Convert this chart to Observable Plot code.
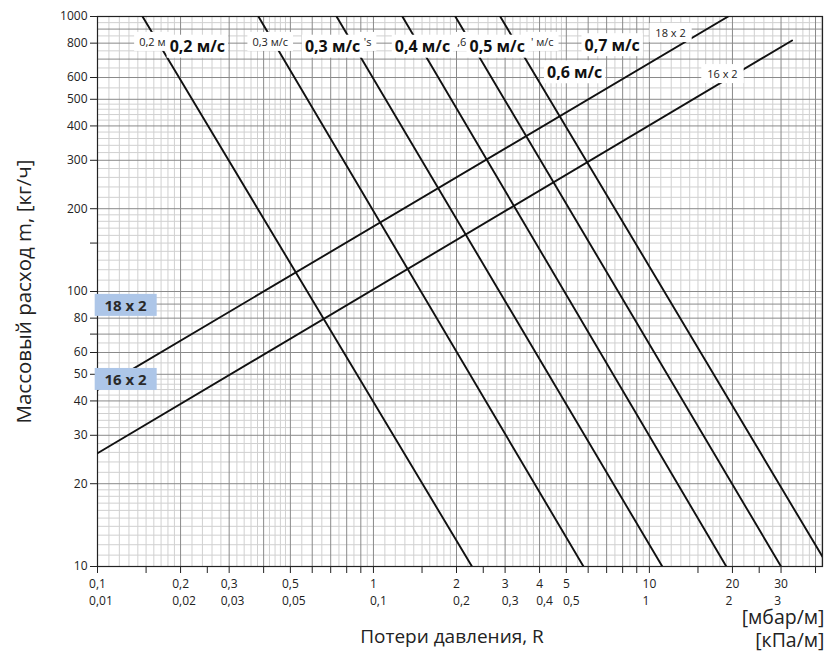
<!DOCTYPE html>
<html><head><meta charset="utf-8">
<script src="https://cdn.jsdelivr.net/npm/d3@7"></script>
<script src="https://cdn.jsdelivr.net/npm/@observablehq/plot@0.6"></script>
<style>
body{margin:0;background:#fff;}
#chart{width:836px;height:656px;}
</style></head><body><div id="chart"></div>
<script>
// ---- data ----
// Velocity (descending) lines: R [мбар/м] where the line meets m = 1000 and m = 10 кг/ч
const velocityIds = ["v1", "v2", "v3", "v4", "v5", "v6"];
const velocityRAtM1000 = [0.1456, 0.383, 0.735, 1.273, 1.98, 2.88];
const velocityRAtM10 = [2.276, 5.77, 11.14, 19.0, 30.0, 44.5];
const velocityM = [1000, 10];

// Pipe lines
const pipeNames = ["18 x 2", "16 x 2"];
const pipeR = [[0.1, 19.3], [0.1, 32.9]];
const pipeM = [[43.9, 1000], [25.8, 818]];

// Axis ticks / labels
const xTicks = [0.1,0.15,0.2,0.25,0.3,0.4,0.5,0.6,0.7,0.8,0.9,1,1.5,2,2.5,3,4,5,6,7,8,9,10,15,20,25,30,40];
const mbarAt = [0.1,0.2,0.3,0.5,1,2,3,4,5,10,20,30];
const mbarText = ["0,1","0,2","0,3","0,5","1","2","3","4","5","10","20","30"];
const kpaText = ["0,01","0,02","0,03","0,05","0,1","0,2","0,3","0,4","0,5","1","2","3"];
const yTicks = [10,20,30,40,50,60,70,80,100,150,200,300,400,500,600,800,1000];
const yLabelAt = [10,20,30,40,50,60,80,100,200,300,400,500,600,800,1000];
const yLabelText = ["10","20","30","40","50","60","80","100","200","300","400","500","600","800","1000"];
const unitText = "[мбар/м]\n[кПа/м]";

// Grid (log paper)
const decadesX = [0.1, 1, 10];
const decadesY = [10, 100];
const majorMult = [1,2,3,4,5,6,7,8,9];
const minorMult = [1.1,1.2,1.3,1.4,1.5,1.6,1.7,1.8,1.9,2.2,2.4,2.6,2.8,3.2,3.4,3.6,3.8,4.2,4.4,4.6,4.8,5.5,6.5,7.5,8.5,9.5];
const xDomain = [0.1, 42.4];
const yDomain = [10, 1000];

// Annotations (R, m positions)
const smallLabelText = ["0,2 м", "0,3 м/с", "'s", ",6", "' м/с"];
const smallLabelR = [0.158, 0.4226, 0.952, 2.09, 4.09];
const smallLabelM = [805, 805, 805, 805, 805];
const boldLabelText = ["0,2 м/с", "0,3 м/с", "0,4 м/с", "0,5 м/с", "0,7 м/с", "0,6 м/с"];
const boldLabelR = [0.230, 0.711, 1.505, 2.81, 7.33, 5.36];
const boldLabelM = [774, 774, 774, 774, 784, 625];
const pipeTagText = ["18 x 2", "16 x 2"];
const pipeTagR = [11.93, 18.4];
const pipeTagM = [867, 615];
const legendText = ["18 x 2", "16 x 2"];
const legendR = [0.1263, 0.1263];
const legendM = [88.5, 47.6];

// ---- derived tables ----
const inDom = (v, d) => v >= d[0] - 1e-9 && v <= d[1] + 1e-9;
const gridFrom = (decs, mult, dom) => decs.flatMap(d => mult.map(k => +(d * k).toPrecision(4))).filter(v => inDom(v, dom));
const majorX = gridFrom(decadesX, majorMult, xDomain);
const minorX = gridFrom(decadesX, minorMult, xDomain);
const majorY = gridFrom(decadesY, majorMult, yDomain);
const minorY = gridFrom(decadesY, minorMult, yDomain);

const velData = velocityIds.flatMap((id, i) => [
  {id, R: velocityRAtM1000[i], m: velocityM[0]},
  {id, R: velocityRAtM10[i], m: velocityM[1]}
]);
const pipeData = pipeNames.flatMap((id, i) => pipeR[i].map((r, j) => ({id, R: r, m: pipeM[i][j]})));
const mk = (t, r, m) => t.map((text, i) => ({text, R: r[i], m: m[i]}));
const smallLabels = mk(smallLabelText, smallLabelR, smallLabelM);
const boldLabels = mk(boldLabelText, boldLabelR, boldLabelM);
const pipeTags = mk(pipeTagText, pipeTagR, pipeTagM);
const legend = mk(legendText, legendR, legendM);
const xRow1 = mbarText.map((text, i) => ({text, R: mbarAt[i]}));
const xRow2 = kpaText.map((text, i) => ({text, R: mbarAt[i]}));
const yLabels = yLabelText.map((text, i) => ({text, m: yLabelAt[i]}));

const font = "'Open Sans', 'DejaVu Sans', sans-serif";

const chart = Plot.plot({
  width: 836, height: 656,
  marginLeft: 97, marginRight: 14, marginTop: 16, marginBottom: 90,
  x: {type: "log", domain: xDomain},
  y: {type: "log", domain: yDomain},
  style: {fontFamily: font, fontSize: "12px", color: "#222", background: "#fff"},
  marks: [
    Plot.ruleX(minorX, {stroke: "#d0d0d0", strokeWidth: 1}),
    Plot.ruleY(minorY, {stroke: "#d0d0d0", strokeWidth: 1}),
    Plot.ruleX(majorX, {stroke: "#8a8a8a", strokeWidth: 1}),
    Plot.ruleY(majorY, {stroke: "#8a8a8a", strokeWidth: 1}),
    Plot.frame({stroke: "#222", strokeWidth: 1.2}),
    Plot.line(velData, {x: "R", y: "m", z: "id", stroke: "#111", strokeWidth: 1.9, clip: true}),
    Plot.line(pipeData, {x: "R", y: "m", z: "id", stroke: "#111", strokeWidth: 1.9, clip: true}),
    Plot.axisY({ticks: yTicks, tickFormat: () => "", tickSize: 7, label: null}),
    Plot.axisX({ticks: xTicks, tickFormat: () => "", tickSize: 7, label: null}),
    Plot.text(yLabels, {y: "m", text: "text", frameAnchor: "left", textAnchor: "end", dx: -10, fontSize: 12, fill: "#222"}),
    Plot.text(xRow1, {x: "R", text: "text", frameAnchor: "bottom", textAnchor: "middle", dy: 21, fontSize: 12, fill: "#222", ariaDescription: "xrow1"}),
    Plot.text(xRow2, {x: "R", text: "text", frameAnchor: "bottom", textAnchor: "start", dy: 38, fontSize: 12, fill: "#222", ariaDescription: "xrow2"}),
    Plot.text(["Массовый расход m, [кг/ч]"], {frameAnchor: "left", textAnchor: "middle", dx: -73, rotate: -90, fontSize: 20.5, fill: "#222"}),
    Plot.text(["Потери давления, R"], {frameAnchor: "bottom", textAnchor: "middle", dx: -8, dy: 76, fontSize: 19, fill: "#222"}),
    Plot.text([unitText], {frameAnchor: "bottom-right", textAnchor: "end", lineAnchor: "top", lineHeight: 1.18, dy: 41, dx: 2, fontSize: 19.5, fill: "#222"}),
    Plot.text(smallLabels, {x: "R", y: "m", text: "text", fontSize: 11, fill: "#222", ariaDescription: "small-label"}),
    Plot.text(boldLabels, {x: "R", y: "m", text: "text", fontSize: 16, fontWeight: "bold", fill: "#111", ariaDescription: "bold-label"}),
    Plot.text(pipeTags, {x: "R", y: "m", text: "text", fontSize: 11, fill: "#222", ariaDescription: "pipe-tag"}),
    Plot.text(legend, {x: "R", y: "m", text: "text", fontSize: 15, fontWeight: "bold", fill: "#2a2a2a", ariaDescription: "legend-tag"})
  ]
});
document.getElementById("chart").append(chart);

const SVGNS = "http://www.w3.org/2000/svg";
function groupTexts(desc) {
  return chart.querySelectorAll(`g[aria-description="${desc}"] text`);
}
function addBoxes(desc, padX, padY, fill, fixedW, fixedH) {
  groupTexts(desc).forEach(t => {
    const b = t.getBBox();
    const w = fixedW != null ? fixedW : b.width + 2 * padX;
    const h = fixedH != null ? fixedH : b.height + 2 * padY;
    const r = document.createElementNS(SVGNS, "rect");
    r.setAttribute("x", b.x + b.width / 2 - w / 2);
    r.setAttribute("y", b.y + b.height / 2 - h / 2);
    r.setAttribute("width", w);
    r.setAttribute("height", h);
    r.setAttribute("fill", fill);
    const tr = t.getAttribute("transform");
    if (tr) r.setAttribute("transform", tr);
    t.parentNode.insertBefore(r, t);
  });
}
addBoxes("small-label", 5, 2, "#fff");
addBoxes("bold-label", 3, 0.5, "#fff");
addBoxes("pipe-tag", 6, 2, "#fff");
addBoxes("legend-tag", 0, 0, "#adc6e8", 62, 22);

// align second-row x labels with the left edge of the first-row labels
const row1 = groupTexts("xrow1");
const row2 = groupTexts("xrow2");
row1.forEach((t, i) => {
  const t2 = row2[i];
  if (!t2) return;
  const b = t.getBBox();
  const b2 = t2.getBBox();
  const cur = parseFloat(t2.getAttribute("x") || "0");
  t2.setAttribute("x", cur + (b.x - b2.x));
});
</script>
</body></html>
